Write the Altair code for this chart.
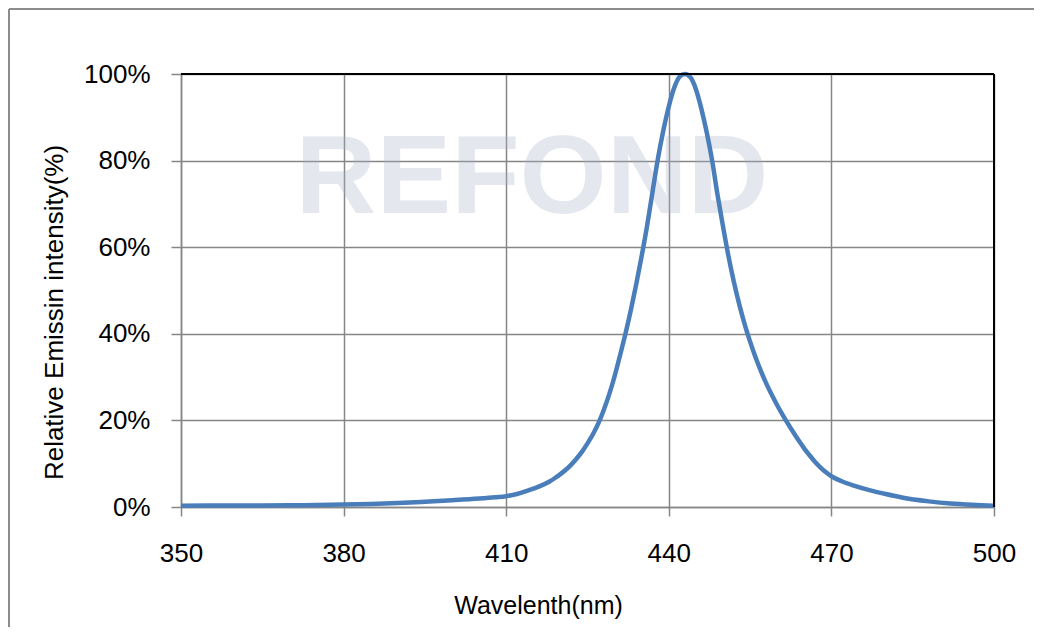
import altair as alt
import pandas as pd

wavelength = [350, 360, 370, 380, 385, 390, 395, 400, 405, 408, 410, 412, 414, 416,
              418, 419, 420, 421, 422, 423, 424, 425, 426, 427, 428, 429, 430, 431,
              432, 433, 434, 435, 436, 437, 438, 439, 440, 441, 442, 443, 444, 445,
              446, 447, 448, 449, 450, 451, 452, 453, 454, 455, 456, 457, 458, 459,
              460, 461, 462, 463, 464, 465, 466, 467, 468, 469, 470, 472, 474, 477,
              480, 483, 488, 492, 496, 500]
intensity = [0.3, 0.35, 0.4, 0.55, 0.7, 0.9, 1.2, 1.55, 1.95, 2.25, 2.5, 3.0, 3.8, 4.7,
             5.9, 6.7, 7.6, 8.6, 9.8, 11.2, 12.8, 14.7, 16.8, 19.3, 22.4, 26, 30.2, 35,
             40, 45.5, 51.5, 58, 65, 72.8, 80.5, 87, 92.5, 96.8, 99.4, 100, 99.2, 96.5,
             92, 86.5, 80, 72, 64.8, 58, 52, 46.8, 42.2, 38.2, 34.6, 31.4, 28.5, 25.9,
             23.5, 21.3, 19.2, 17.2, 15.3, 13.5, 11.9, 10.4, 9.1, 8.0, 7.1, 5.9, 5.0, 3.9,
             3.0, 2.2, 1.3, 0.8, 0.5, 0.3]

x_ticks = [350, 380, 410, 440, 470, 500]
y_ticks = [0, 20, 40, 60, 80, 100]

df = pd.DataFrame({"wl": wavelength, "val": intensity})

W, H = 813, 433
FONT = "Liberation Sans"
GRID = "#868686"

one = alt.Data(values=[{}])

watermark = alt.Chart(one).mark_text(
    text="REFOND", font=FONT, fontSize=112, fontWeight="bold",
    color="#aab3cc", opacity=0.3, align="center", baseline="alphabetic"
).encode(x=alt.value(351), y=alt.value(139))

line = alt.Chart(df).mark_line(
    color="#4a7ebb", strokeWidth=4.5, interpolate="monotone"
).encode(
    x=alt.X("wl:Q",
            scale=alt.Scale(domain=[350, 500], nice=False, zero=False),
            axis=alt.Axis(values=x_ticks, title="Wavelenth(nm)", format="d",
                          grid=True, gridColor=GRID, gridWidth=1.5,
                          domainColor=GRID, domainWidth=1.5,
                          tickColor=GRID, tickSize=9, tickWidth=1.5,
                          labelFont=FONT, labelFontSize=26, labelColor="#000",
                          labelPadding=24, labelFlush=False,
                          titleFont=FONT, titleFontSize=25, titleFontWeight="normal",
                          titleColor="#000", titleAnchor="middle",
                          titleX=357, titleY=106, titleAlign="center",
                          titleBaseline="alphabetic")),
    y=alt.Y("val:Q",
            scale=alt.Scale(domain=[0, 100], nice=False),
            axis=alt.Axis(values=y_ticks, title="Relative Emissin intensity(%)",
                          labelExpr="datum.value + '%'",
                          grid=True, gridColor=GRID, gridWidth=1.5,
                          domainColor=GRID, domainWidth=1.5,
                          tickColor=GRID, tickSize=10, tickWidth=1.5,
                          labelFont=FONT, labelFontSize=26, labelColor="#000",
                          labelPadding=21, labelFlush=False,
                          titleFont=FONT, titleFontSize=26, titleFontWeight="normal",
                          titleColor="#000", titleAngle=270,
                          titleX=-119, titleY=238, titleAlign="center",
                          titleBaseline="alphabetic")),
)

top_border = alt.Chart(one).mark_rule(color="#000", strokeWidth=2).encode(
    x=alt.value(0), x2=alt.value(W), y=alt.value(0))
right_border = alt.Chart(one).mark_rule(color="#000", strokeWidth=2).encode(
    x=alt.value(W), y=alt.value(0), y2=alt.value(H))

outer_top = alt.Chart(one).mark_rule(color="#8c8c8c", strokeWidth=2, clip=False).encode(
    x=alt.value(-172), x2=alt.value(870), y=alt.value(-65))
outer_left = alt.Chart(one).mark_rule(color="#8c8c8c", strokeWidth=2, clip=False).encode(
    x=alt.value(-172), y=alt.value(-65), y2=alt.value(570))

chart = alt.layer(
    watermark, line, top_border, right_border, outer_top, outer_left
).properties(
    width=W, height=H,
    autosize=alt.AutoSizeParams(type="none"),
    padding={"left": 173, "top": 66, "right": 40, "bottom": 120},
    background="white",
).configure_view(stroke=None)

chart.save("out.html", embed_options={"renderer": "svg", "actions": False})
